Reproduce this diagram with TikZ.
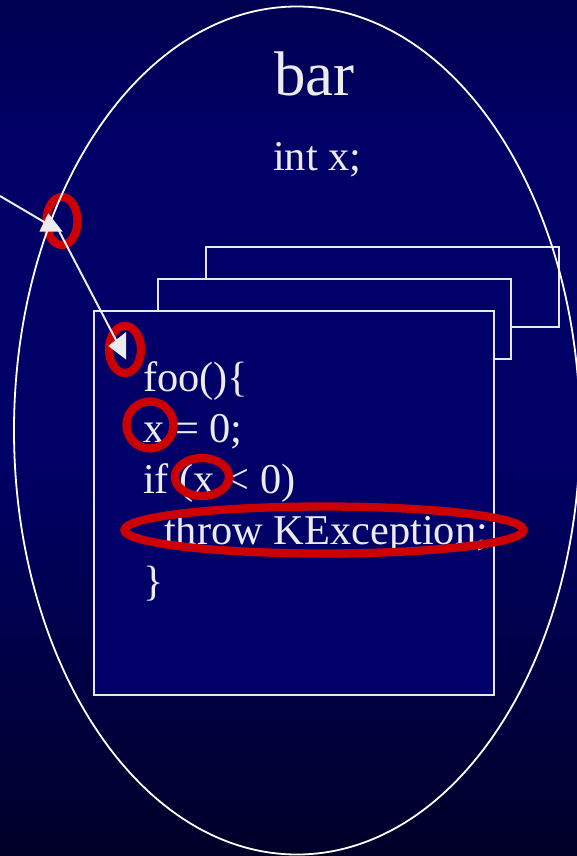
\documentclass[tikz,border=0pt]{standalone}
\usepackage{fontspec}
\setmainfont{Liberation Serif}
\definecolor{topc}{RGB}{0,0,80}
\definecolor{midc}{RGB}{0,0,102}
\definecolor{botc}{RGB}{0,0,40}
\definecolor{cardc}{RGB}{0,0,104}
\definecolor{textc}{RGB}{236,236,240}
\definecolor{linec}{RGB}{230,230,236}
\definecolor{hired}{RGB}{204,0,0}
\pgfdeclareverticalshading{bgshade}{100bp}{color(0bp)=(botc); color(25bp)=(botc); color(48bp)=(midc); color(67bp)=(midc); color(75bp)=(topc); color(100bp)=(topc)}
\begin{document}
\begin{tikzpicture}[x=1pt,y=-1pt,
  txt/.style={text=textc, inner sep=0pt, anchor=base west},
  codetxt/.style={txt, font=\fontsize{42.4}{51}\selectfont},
  card/.style={draw=linec, line width=2pt, fill=cardc, anchor=north west, inner sep=0pt, outer sep=0pt},
  hilite/.style={draw=hired, line width=8.3pt},
  link/.style={draw=textc, line width=2pt},
  tipshape/.style={fill=textc}]
\useasboundingbox (0,0) rectangle (577,856);
\shade[shading=bgshade] (0,0) rectangle (577,856);
\clip (0,0) rectangle (577,856);
% stacked frames
\node[card, minimum width=353pt, minimum height=80pt] (back) at (206,247) {};
\node[card, minimum width=353pt, minimum height=80pt] (middle) at (158,279) {};
\node[card, minimum width=400pt, minimum height=384pt] (front) at (94,311) {};
% texts
\node[txt, font=\fontsize{63}{70}\selectfont] (bar) at (274,96) {bar};
\node[codetxt] (intx) at (273,170) {int x;};
\node[codetxt] (l1) at (143,391) {foo()\{};
\node[codetxt] (l2) at (143,442) {x = 0;};
\node[codetxt] (l3) at (143,493) {if (x < 0)};
\node[codetxt] (l4) at (164,544) {throw KException;};
\node[codetxt] (l5) at (143,595) {\}};
% red highlights
\draw[hilite] (62,221) ellipse [x radius=15.5, y radius=24];
\draw[hilite] (125,349.5) ellipse [x radius=16, y radius=23.5];
\draw[hilite] (150,425) ellipse [x radius=23.5, y radius=23.5];
\draw[hilite] (202,477) ellipse [x radius=27, y radius=19];
\draw[hilite] (324,530) ellipse [x radius=199.5, y radius=23.5];
% outer scope ellipse
\draw[draw=white, line width=1.8pt] (297,430.5) ellipse [x radius=283, y radius=424];
% connectors
\coordinate (offstage) at (0,196);
\coordinate (entry) at (45,222.5);
\coordinate (entryout) at (58,229);
\coordinate (target) at (117,342);
\draw[link] (offstage) -- (entry);
\draw[link] (entryout) -- (target);
\fill[tipshape] (48.3,213.3) -- (39.3,231.7) -- (62.7,231.7) -- cycle;
\fill[tipshape] (108.3,346) -- (126,332) -- (126,359.5) -- cycle;
\end{tikzpicture}
\end{document}
